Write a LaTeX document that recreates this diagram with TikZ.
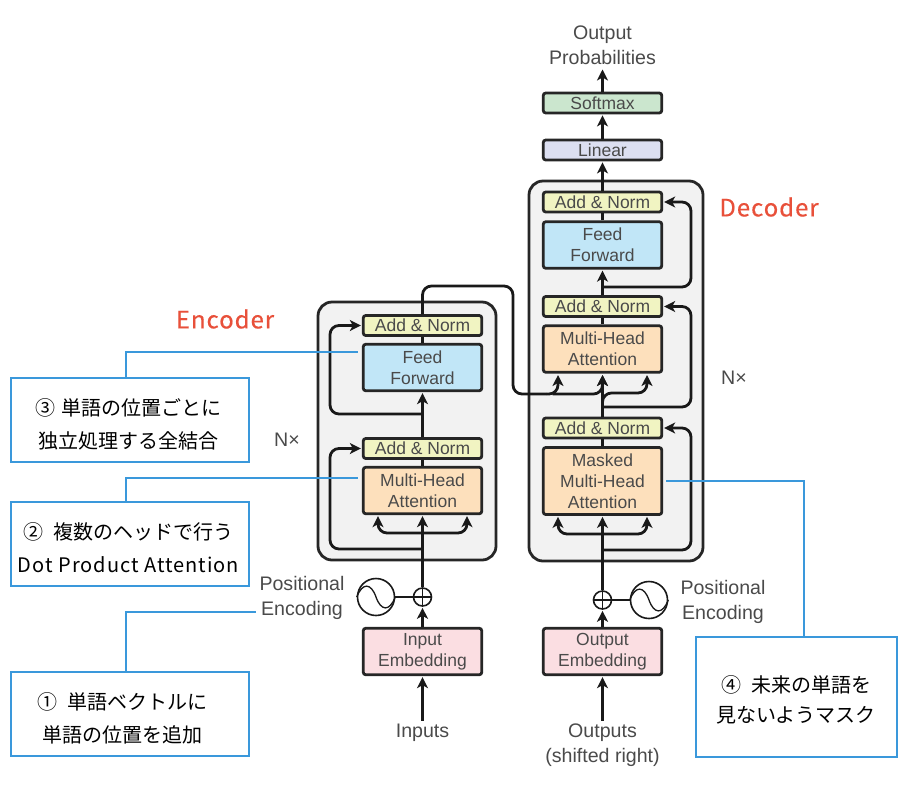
\documentclass[tikz,border=0pt]{standalone}
\usepackage{fontspec}
\setmainfont{Liberation Sans}
\newfontfamily\jpfont{Noto Sans CJK JP}
\usetikzlibrary{arrows.meta,calc}
\def\notetop{\rule{0pt}{25pt}}
\definecolor{normcol}{HTML}{F1F4C2}
\definecolor{feedcol}{HTML}{C1E6F7}
\definecolor{attcol}{HTML}{FDE0BC}
\definecolor{embcol}{HTML}{FBDEE2}
\definecolor{softcol}{HTML}{CBE6CE}
\definecolor{lincol}{HTML}{DCDFF1}
\definecolor{panelcol}{HTML}{F2F2F2}
\definecolor{notecol}{HTML}{3A98DB}
\definecolor{titlecol}{HTML}{E8503A}
\definecolor{txtcol}{HTML}{4A4A4A}
\tikzset{
	label/.style={text=txtcol, align=center, font=\fontsize{19.6}{25}\selectfont},
	block/.style={text=txtcol, align=center, font=\fontsize{17.5}{21}\selectfont, draw=black!85, line width=2.8pt, rounded corners=2.5pt, inner sep=0pt, minimum width=118.5pt},
	addnorm/.style={block, fill=normcol, minimum height=20pt},
	feed/.style={block, fill=feedcol, minimum height=46.5pt},
	att/.style={block, fill=attcol, minimum height=46.5pt},
	embed/.style={block, fill=embcol, minimum height=46.5pt},
	panel/.style={draw=black!85, fill=panelcol, line width=2.8pt, rounded corners=14pt, inner sep=0pt},
	wire/.style={draw=black!90, line width=2.8pt, rounded corners=9pt},
	arrow/.style={wire, -{Stealth[length=11pt,width=11pt,inset=3pt]}, shorten >=1pt},
	note/.style={draw=notecol, line width=2pt, fill=white, inner sep=0pt, align=center, font=\jpfont\fontsize{20}{33}\selectfont},
	leader/.style={draw=notecol, line width=2pt},
	title/.style={text=titlecol, font=\jpfont\fontsize{24}{28}\selectfont\addfontfeature{LetterSpace=4,FakeBold=0.4}},
	plus/.style={circle, draw=black!90, fill=white, line width=1.6pt, minimum size=18pt, inner sep=0pt},
	wave/.style={circle, draw=black!90, fill=white, line width=1.6pt, minimum size=37pt, inner sep=0pt},
}
\begin{document}
\begin{tikzpicture}[x=1pt, y=-1pt]
	\useasboundingbox (0, 0) rectangle (920, 788);
	
	%%%%% panels %%%%%
	\node[panel, minimum width=178pt, minimum height=258pt] (panelE) at (407, 431) {};
	\node[panel, minimum width=174pt, minimum height=380pt] (panelD) at (616, 371) {};
	
	%%%%% encoder %%%%%
	\node[addnorm] (normE2) at (422.5, 325.5) {Add \& Norm};
	\node[feed] (feedE) at (422.5, 367.5) {Feed\\Forward};
	\node[addnorm] (normE1) at (422.5, 448.5) {Add \& Norm};
	\node[att] (attE) at (422.5, 490.5) {Multi-Head\\Attention};
	\node[embed] (embE) at (422.5, 651.5) {Input\\Embedding};
	\node[plus] (plusE) at (422.5, 597) {};
	\node[wave] (waveE) at (376, 597) {};
	\node[label] (posE) at (302, 598) {Positional\\Encoding};
	\node[label] (inE) at (422.5, 733) {Inputs};
	
	%%%%% decoder %%%%%
	\node[addnorm] (normD3) at (602.5, 202) {Add \& Norm};
	\node[feed] (feedD) at (602.5, 245) {Feed\\Forward};
	\node[addnorm] (normD2) at (602.5, 306.5) {Add \& Norm};
	\node[att] (attD2) at (602.5, 349) {Multi-Head\\Attention};
	\node[addnorm] (normD1) at (602.5, 428) {Add \& Norm};
	\node[att, minimum height=67pt] (attD1) at (602.5, 481) {Masked\\Multi-Head\\Attention};
	\node[embed] (embD) at (602.5, 651.5) {Output\\Embedding};
	\node[plus] (plusD) at (602.5, 600) {};
	\node[wave] (waveD) at (649, 600) {};
	\node[label] (posD) at (723, 602) {Positional\\Encoding};
	\node[label] (outD) at (602.5, 745.5) {Outputs\\(shifted right)};
	
	%%%%% top %%%%%
	\node[block, fill=lincol, minimum height=20pt] (linear) at (602.5, 150) {Linear};
	\node[block, fill=softcol, minimum height=20pt] (softmax) at (602.5, 103) {Softmax};
	\node[label] (probs) at (602.5, 45.5) {Output\\Probabilities};
	
	\node[label] (nE) at (287, 440) {N×};
	\node[label] (nD) at (734, 378) {N×};
	\node[title] (encName) at (225, 319) {Encoder};
	\node[title] (decName) at (769, 207) {Decoder};
	
	%%%%% wires, encoder %%%%%
	\coordinate (splitE) at (422.5, 533);
	\coordinate (backE1) at (422.5, 549);
	\coordinate (backE2) at (422.5, 414);
	\coordinate (leftE) at (330, 0);
	\coordinate (overA) at (422.5, 286);
	\coordinate (overB) at (513, 394);
	\coordinate (tapA) at (558, 374);
	\coordinate (tapB) at (602.5, 374);
	\coordinate (tapC) at (647, 374);
	
	\draw[arrow] (inE.north) -- (embE.south);
	\draw[arrow] (embE.north) -- (plusE.south);
	\draw[arrow] (plusE.north) -- (attE.south);
	\draw[arrow] (splitE) -| ([xshift=-44.5]attE.south);
	\draw[arrow] (splitE) -| ([xshift=44.5]attE.south);
	\draw[wire] (attE.north) -- (normE1.south);
	\draw[arrow] (normE1.north) -- (feedE.south);
	\draw[wire] (feedE.north) -- (normE2.south);
	\draw[arrow] (backE1) -- (backE1 -| leftE) |- (normE1.west);
	\draw[arrow] (backE2) -- (backE2 -| leftE) |- (normE2.west);
	\draw[wire] (waveE.east) -- (plusE.west);
	
	%%%%% wires, decoder %%%%%
	\coordinate (splitD) at (602.5, 534);
	\coordinate (backD1) at (602.5, 550);
	\coordinate (backD2) at (602.5, 407);
	\coordinate (backD3) at (602.5, 287);
	\coordinate (rightD) at (691, 0);
	
	\draw[arrow] (outD.north) -- (embD.south);
	\draw[arrow] (embD.north) -- (plusD.south);
	\draw[arrow] (plusD.north) -- (attD1.south);
	\draw[arrow] (splitD) -| ([xshift=-44.5]attD1.south);
	\draw[arrow] (splitD) -| ([xshift=44.5]attD1.south);
	\draw[wire] (attD1.north) -- (normD1.south);
	\draw[arrow] (normD1.north) -- (tapB);
	\draw[wire] (attD2.north) -- (normD2.south);
	\draw[arrow] (normD2.north) -- (feedD.south);
	\draw[wire] (feedD.north) -- (normD3.south);
	\draw[arrow] (normD3.north) -- (linear.south);
	\draw[arrow] (linear.north) -- (softmax.south);
	\draw[arrow] (softmax.north) -- (probs.south);
	\draw[arrow] (backD1) -- (backD1 -| rightD) |- (normD1.east);
	\draw[arrow] (backD2) -- (backD2 -| rightD) |- (normD2.east);
	\draw[arrow] (backD3) -- (backD3 -| rightD) |- (normD3.east);
	\draw[wire] (waveD.west) -- (plusD.east);
	
	%%%%% encoder to decoder %%%%%
	\draw[wire] (normE2.north) -- (overA) -| (overB) -- ($(overB -| tapA)+(-12,0)$);
	\draw[arrow] ($(overB -| tapA)+(-12,0)$) -| (tapA);
	\draw[arrow] ($(overB -| tapB)+(-50,0)$) -| (tapB);
	\draw[arrow] (backD2) -- ++(0,-14) -| (tapC);
	
	%%%%% plus and wave %%%%%
	\draw[line width=1.2pt, black!90] (plusE.west) -- (plusE.east) (plusE.north) -- (plusE.south);
	\draw[line width=1.2pt, black!90] (plusD.west) -- (plusD.east) (plusD.north) -- (plusD.south);
	\draw[line width=1.3pt, black!90] (waveE.west) .. controls +(6,-15) and +(-5,-14) .. (waveE.center) .. controls +(5,14) and +(-6,15) .. (waveE.east);
	\draw[line width=1.3pt, black!90] (waveD.west) .. controls +(6,-15) and +(-5,-14) .. (waveD.center) .. controls +(5,14) and +(-6,15) .. (waveD.east);
	
	%%%%% notes %%%%%
	\node[note, minimum width=238pt, minimum height=84pt] (noteC) at (130, 420) {\notetop ③\hspace{6pt}単語の位置ごとに\hspace*{4pt}\\独立処理する全結合\hspace*{4pt}};
	\node[note, minimum width=238pt, minimum height=84pt] (noteB) at (130, 544) {\notetop ②\hspace{10pt}複数のヘッドで行う\hspace*{3pt}\\{\addfontfeature{LetterSpace=5}Dot Product Attention}\hspace*{3pt}};
	\node[note, minimum width=238pt, minimum height=84pt] (noteA) at (130, 714) {\notetop ①\hspace{10pt}単語ベクトルに\hspace*{16pt}\\単語の位置を追加\hspace*{16pt}};
	\node[note, minimum width=201pt, minimum height=120pt, font=\jpfont\fontsize{20}{30}\selectfont] (noteD) at (796, 696.5) {\notetop ④\hspace{10pt}未来の単語を\\見ないようマスク\rule[-4pt]{0pt}{4pt}};
	
	\draw[leader] ([xshift=-4]noteC.north) |- ([xshift=-4,yshift=15.5]feedE.west);
	\draw[leader] ([xshift=-4]noteB.north) |- ([xshift=-4,yshift=12.5]attE.west);
	\draw[leader] ([xshift=-4]noteA.north) |- ([yshift=-14]posE.west);
	\draw[leader] ([xshift=3]attD1.east) -| ([xshift=8]noteD.north);
\end{tikzpicture}
\end{document}
